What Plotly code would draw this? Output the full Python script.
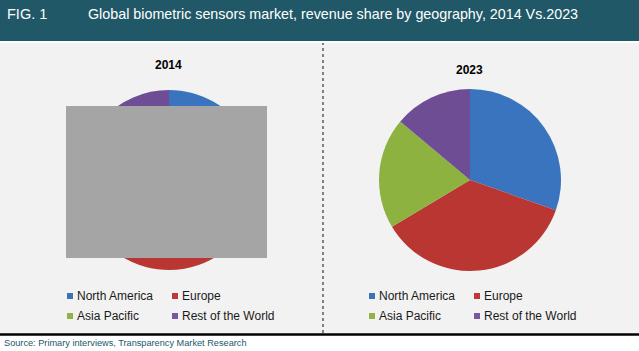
import plotly.graph_objects as go

W, H = 639, 351

regions = ["North America", "Europe", "Asia Pacific", "Rest of the World"]
share_2014 = [33.0, 38.0, 16.0, 13.0]
share_2023 = [30.4, 36.0, 19.7, 13.9]
colors = ["#3A74BE", "#BA3632", "#8DB240", "#6E4D94"]
legend_colors = ["#3D72B8", "#C0393A", "#92B246", "#7A58A0"]

FONT = "Liberation Sans, Arial, sans-serif"


def px_x(x):
    return x / W


def px_y(y):
    return 1 - y / H


def pie(values, cx, cy, r, name):
    return go.Pie(
        labels=regions, values=values, sort=False, direction="clockwise",
        rotation=0, textinfo="none", hoverinfo="label+percent", name=name,
        marker=dict(colors=colors, line=dict(width=0)),
        domain=dict(x=[px_x(cx - r), px_x(cx + r)], y=[px_y(cy + r), px_y(cy - r)]),
        showlegend=False,
    )


fig = go.Figure()
fig.add_trace(pie(share_2014, 169, 180, 90, "2014"))
fig.add_trace(pie(share_2023, 470, 180, 91, "2023"))

shapes = [
    dict(type="rect", xref="paper", yref="paper", x0=0, x1=1, y0=px_y(41), y1=1,
         fillcolor="#215867", line=dict(width=0), layer="below"),
    dict(type="rect", xref="paper", yref="paper", x0=0, x1=1, y0=px_y(333), y1=px_y(43),
         fillcolor="#F2F2F2", line=dict(width=0), layer="below"),
    dict(type="line", xref="paper", yref="paper", x0=0, x1=1, y0=px_y(334.5), y1=px_y(334.5),
         line=dict(color="#000000", width=2.5)),
    dict(type="line", xref="paper", yref="paper", x0=px_x(323), x1=px_x(323), y0=px_y(333), y1=px_y(43),
         line=dict(color="#111111", width=1, dash="3px,3px")),
    # occluding grey box present in the reference
    dict(type="rect", xref="paper", yref="paper", x0=px_x(66), x1=px_x(267), y0=px_y(258), y1=px_y(106),
         fillcolor="#A5A5A5", line=dict(width=0), layer="above"),
]

annotations = [
    dict(text="FIG. 1", x=px_x(5), y=px_y(14), xanchor="left", yanchor="middle",
         font=dict(family=FONT, size=14.5, color="white")),
    dict(text="Global biometric sensors market, revenue share by geography, 2014 Vs.2023",
         x=px_x(86), y=px_y(14), xanchor="left", yanchor="middle",
         font=dict(family=FONT, size=14.3, color="white")),
    dict(text="<b>2014</b>", x=px_x(168), y=px_y(64.5), xanchor="center", yanchor="middle",
         font=dict(family=FONT, size=12, color="black")),
    dict(text="<b>2023</b>", x=px_x(469), y=px_y(69.5), xanchor="center", yanchor="middle",
         font=dict(family=FONT, size=12, color="black")),
    dict(text="Source: Primary interviews, Transparency Market Research", x=px_x(2), y=px_y(343),
         xanchor="left", yanchor="middle", font=dict(family=FONT, size=9.2, color="#215867")),
]

# legends for each pie
legend_pos = [(0, 0), (1, 0), (0, 1), (1, 1)]
for base_x in (67, 369):
    for i, name in enumerate(regions):
        col, row = legend_pos[i]
        mx = base_x + col * 105
        my = 296 + row * 20
        shapes.append(dict(type="rect", xref="paper", yref="paper",
                           x0=px_x(mx), x1=px_x(mx + 6), y0=px_y(my + 3), y1=px_y(my - 3),
                           fillcolor=legend_colors[i], line=dict(width=0)))
        annotations.append(dict(text=name, x=px_x(mx + 8), y=px_y(my), xanchor="left",
                                yanchor="middle", showarrow=False,
                                font=dict(family=FONT, size=12, color="#1a1a1a")))

for a in annotations:
    a.setdefault("showarrow", False)
    a["xref"] = "paper"
    a["yref"] = "paper"

fig.update_layout(
    width=W, height=H, margin=dict(l=0, r=0, t=0, b=0),
    paper_bgcolor="white", plot_bgcolor="white",
    shapes=shapes, annotations=annotations, showlegend=False,
)

fig.write_html("out.html", config={"displayModeBar": False})
